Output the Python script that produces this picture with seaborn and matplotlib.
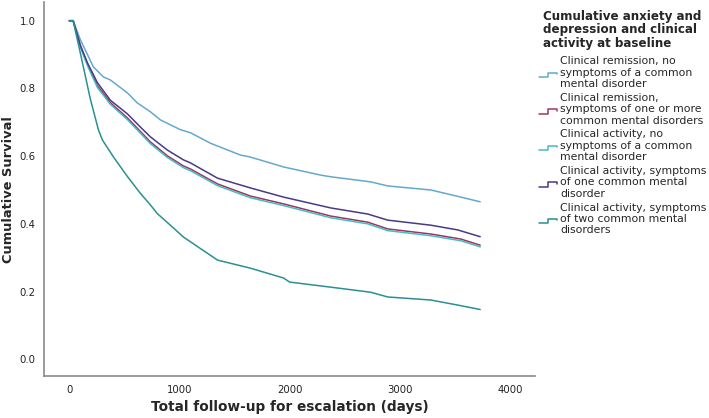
import pandas as pd
import matplotlib
matplotlib.use('Agg')
import matplotlib.pyplot as plt
import seaborn as sns
from matplotlib.lines import Line2D
from matplotlib.legend_handler import HandlerLine2D

# Kaplan-Meier curves (days, cumulative survival)
groups = [
    'Clinical remission, no\nsymptoms of a common\nmental disorder',
    'Clinical remission,\nsymptoms of one or more\ncommon mental disorders',
    'Clinical activity, no\nsymptoms of a common\nmental disorder',
    'Clinical activity, symptoms\nof one common mental\ndisorder',
    'Clinical activity, symptoms\nof two common mental\ndisorders',
]
colors = ['#64a9cc', '#9c3563', '#45bcc0', '#4a3a84', '#2b8f93']

days_rem_none = [0, 35, 100, 218, 309, 373, 527, 618, 736, 827, 1009, 1100, 1282,
                 1555, 1636, 1945, 2282, 2373, 2736, 2890, 3282, 3555, 3730]
surv_rem_none = [1.0, 1.0, 0.944, 0.864, 0.834, 0.825, 0.787, 0.757, 0.731, 0.707, 0.678,
                 0.669, 0.638, 0.603, 0.598, 0.568, 0.544, 0.539, 0.524, 0.512, 0.500,
                 0.479, 0.465]

days_rem_sym = [0, 35, 100, 164, 255, 373, 527, 645, 736, 890, 1036, 1100, 1345, 1645,
                1945, 2373, 2709, 2890, 3282, 3555, 3730]
surv_rem_sym = [1.0, 1.0, 0.925, 0.872, 0.808, 0.758, 0.713, 0.673, 0.642, 0.601, 0.571,
                0.562, 0.518, 0.482, 0.459, 0.423, 0.405, 0.385, 0.370, 0.355, 0.337]

days_act_none = [0, 35, 100, 164, 255, 373, 527, 645, 736, 890, 1036, 1100, 1345, 1645,
                 1945, 2373, 2709, 2890, 3282, 3555, 3730]
surv_act_none = [1.0, 1.0, 0.923, 0.868, 0.803, 0.753, 0.708, 0.668, 0.637, 0.596, 0.566,
                 0.557, 0.513, 0.477, 0.454, 0.418, 0.400, 0.380, 0.365, 0.350, 0.332]

days_act_one = [0, 35, 100, 164, 255, 373, 527, 645, 736, 890, 1036, 1100, 1345, 1645,
                1945, 2373, 2709, 2890, 3282, 3527, 3730]
surv_act_one = [1.0, 1.0, 0.928, 0.876, 0.817, 0.765, 0.725, 0.686, 0.657, 0.618, 0.589,
                0.580, 0.535, 0.506, 0.479, 0.447, 0.429, 0.411, 0.396, 0.382, 0.362]

days_act_two = [0, 35, 100, 190, 264, 300, 400, 527, 645, 736, 800, 945, 1036, 1345,
                1645, 1945, 2000, 2373, 2736, 2890, 3282, 3527, 3730]
surv_act_two = [1.0, 1.0, 0.905, 0.770, 0.678, 0.648, 0.598, 0.540, 0.490, 0.456, 0.430,
                0.388, 0.361, 0.293, 0.269, 0.240, 0.228, 0.213, 0.198, 0.184, 0.175,
                0.160, 0.147]

all_days = [days_rem_none, days_rem_sym, days_act_none, days_act_one, days_act_two]
all_surv = [surv_rem_none, surv_rem_sym, surv_act_none, surv_act_one, surv_act_two]

rows = []
for g, d, s in zip(groups, all_days, all_surv):
    for t, v in zip(d, s):
        rows.append({'group': g, 'days': t, 'survival': v})
df = pd.DataFrame(rows)


class StepHandler(HandlerLine2D):
    # legend icon drawn as a small step, like SPSS survival plots
    def create_artists(self, legend, orig_handle, xdescent, ydescent,
                       width, height, fontsize, trans):
        x0 = -xdescent
        lo = -height * 0.05
        hi = height * 0.55
        xs = [x0, x0 + width * 0.5, x0 + width * 0.5, x0 + width, x0 + width]
        ys = [lo, lo, hi, hi, hi - height * 0.2]
        line = Line2D(xs, ys, color=orig_handle.get_color(),
                      lw=orig_handle.get_linewidth())
        line.set_transform(trans)
        return [line]


sns.set_style('white')
plt.rcParams['font.family'] = ['DejaVu Sans']

fig = plt.figure(figsize=(7.09, 4.18), dpi=100)
ax = fig.add_axes([0.062, 0.100, 0.693, 0.895])

sns.lineplot(data=df, x='days', y='survival', hue='group', hue_order=groups,
             palette=colors, estimator=None, sort=False, linewidth=1.1, ax=ax)

ax.set_xlim(-230, 4230)
ax.set_ylim(-0.05, 1.055)
ax.set_xticks([0, 1000, 2000, 3000, 4000])
ax.set_yticks([0.0, 0.2, 0.4, 0.6, 0.8, 1.0])
ax.set_yticklabels(['0.0', '0.2', '0.4', '0.6', '0.8', '1.0'])
ax.tick_params(axis='both', length=0, labelsize=7.3, colors='#222222', pad=6)
for side in ['top', 'right']:
    ax.spines[side].set_visible(False)
for side in ['left', 'bottom']:
    ax.spines[side].set_color('#8a8a8a')
    ax.spines[side].set_linewidth(1.2)

ax.set_xlabel('Total follow-up for escalation (days)', fontsize=9.8,
              fontweight='bold', labelpad=4)
ax.set_ylabel('Cumulative Survival', fontsize=9.4, fontweight='bold', labelpad=3)

handles, labels = ax.get_legend_handles_labels()
leg = ax.legend(handles, labels,
                title='Cumulative anxiety and\ndepression and clinical\nactivity at baseline',
                title_fontproperties={'weight': 'bold', 'size': 8.6},
                fontsize=7.8, frameon=False, loc='upper left',
                bbox_to_anchor=(0.755, 0.985), bbox_transform=fig.transFigure,
                handlelength=1.7, handletextpad=0.3, labelspacing=0.35,
                borderaxespad=0.0, borderpad=0.3,
                handler_map={Line2D: StepHandler()})
for txt in leg.get_texts():
    txt.set_linespacing(1.17)
leg.get_title().set_linespacing(1.05)
# a bit more room between the legend title and the entries
leg._legend_box.sep = 5

fig.savefig('out.png', dpi=100)
